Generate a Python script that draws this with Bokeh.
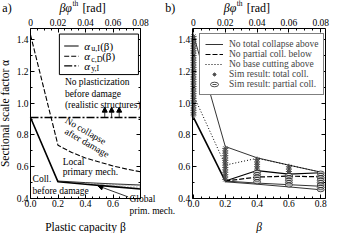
from bokeh.plotting import figure
from bokeh.layouts import row
from bokeh.models import (Range1d, LinearAxis, FixedTicker, PrintfTickFormatter,
                          CustomJSTickFormatter, Label, Arrow, NormalHead,
                          BoxAnnotation, Legend, LegendItem)
from bokeh.embed import file_html
from bokeh.resources import INLINE

FONT = "Liberation Serif"

# ---------------- panel a data ----------------
beta_a = [0.0, 0.2, 0.4, 0.6, 0.8]
alpha_u_I = [0.91, 0.505, 0.49, 0.475, 0.46]
beta_glob = [0.2, 0.4, 0.6, 0.8]
alpha_u_I_glob = [0.51, 0.50, 0.492, 0.485]
alpha_u_I_low = [0.505, 0.49, 0.475, 0.46]
beta_cD = [0.0, 0.2, 0.3, 0.4, 0.5, 0.6, 0.7, 0.8]
alpha_c_D = [1.43, 0.735, 0.69, 0.655, 0.63, 0.605, 0.585, 0.568]
beta_yI = [0.0, 0.8]
alpha_y_I = [0.91, 0.91]
arrow_beta = [0.54, 0.59, 0.645]

# ---------------- panel b data ----------------
beta_b = [0.0, 0.2, 0.4, 0.6, 0.8]
total_upper = [1.43, 0.727, 0.656, 0.61, 0.566]
base_cut = [1.05, 0.61, 0.653, 0.61, 0.566]
beta_b2 = [0.2, 0.4, 0.6, 0.8]
total_mid = [0.51, 0.576, 0.553, 0.562]
partial_below = [0.51, 0.535, 0.541, 0.536]
total_low1 = [0.51, 0.497, 0.487, 0.477]
total_low2 = [0.505, 0.49, 0.473, 0.455]
beta_b0 = [0.0, 0.2]
total_thick = [0.91, 0.51]

sim_total_b00 = [1.42, 1.405, 1.39, 1.375, 1.36, 1.345, 1.33, 1.315, 1.30, 1.285,
                 1.27, 1.255, 1.24, 1.225, 1.21, 1.195, 1.18, 1.165, 1.15, 1.135,
                 1.12, 1.105, 1.09, 1.075, 1.06, 1.045, 1.03, 1.015, 1.00, 0.985,
                 0.97, 0.955, 0.94, 0.925]
sim_total_b02 = [0.715, 0.70, 0.685, 0.67, 0.655, 0.64, 0.625, 0.61, 0.595, 0.58,
                 0.565, 0.55, 0.535, 0.52]
sim_total_b04 = [0.645, 0.63, 0.615, 0.60, 0.585]
sim_total_b06 = [0.60, 0.585, 0.57, 0.555]
sim_part_b04 = [0.565, 0.55, 0.535, 0.52, 0.505]
sim_part_b06 = [0.545, 0.53, 0.515, 0.50, 0.485]
sim_part_b08 = [0.56, 0.545, 0.53, 0.515, 0.50, 0.485, 0.47, 0.455]

sim_total = {0.0: sim_total_b00, 0.2: sim_total_b02, 0.4: sim_total_b04, 0.6: sim_total_b06}
sim_part = {0.4: sim_part_b04, 0.6: sim_part_b06, 0.8: sim_part_b08}
st_x = [b for b, ys in sim_total.items() for _ in ys]
st_y = [y for ys in sim_total.values() for y in ys]
sp_x = [b for b, ys in sim_part.items() for _ in ys]
sp_y = [y for ys in sim_part.values() for y in ys]

# ---------------- axes / ticks ----------------
Y_MIN, Y_MAX = 0.4, 1.47
y_ticks = [0.4, 0.6, 0.8, 1.0, 1.2, 1.4]
y_minor = [0.5, 0.7, 0.9, 1.1, 1.3]
x_ticks_a = [0.0, 0.2, 0.4, 0.6]
x_ticks_b = [0.0, 0.2, 0.4, 0.6, 0.8]
x_minor = [round(0.05 * i, 3) for i in range(17)]
top_ticks = [0.0, 0.02, 0.04, 0.06, 0.08]
top_minor = [round(0.005 * i, 4) for i in range(17)]

HEIGHT = 233
# canvas spans in data units (frame = whole canvas; the box is drawn by the axes)
CANVAS_Y = (0.1797, 1.6462)


def style_axis(ax):
    ax.axis_line_color = "black"
    ax.axis_line_width = 1
    ax.major_tick_in = 4
    ax.major_tick_out = 0
    ax.minor_tick_in = 2
    ax.minor_tick_out = 0
    ax.major_tick_line_color = "black"
    ax.minor_tick_line_color = "black"
    ax.major_label_text_font = FONT
    ax.major_label_text_font_size = "9.5px"
    ax.major_label_text_color = "black"
    ax.major_label_standoff = 2
    ax.axis_label_text_font = FONT
    ax.axis_label_text_font_size = "11.5px"
    ax.axis_label_text_font_style = "normal"
    ax.axis_label_text_color = "black"


def make_panel(width, canvas_x, box_x, bottom_ticks):
    p = figure(width=width, height=HEIGHT, x_range=Range1d(*canvas_x),
               y_range=Range1d(*CANVAS_Y), output_backend="svg",
               toolbar_location=None, min_border=0,
               x_axis_location=None, y_axis_location=None)
    p.extra_x_ranges = {"top": Range1d(canvas_x[0] / 10, canvas_x[1] / 10)}
    p.grid.visible = False
    p.outline_line_color = None
    p.background_fill_color = "white"
    p.border_fill_color = "white"
    x0, x1 = box_x
    bottom = LinearAxis(ticker=FixedTicker(ticks=bottom_ticks, minor_ticks=x_minor),
                        formatter=PrintfTickFormatter(format="%.1f"),
                        fixed_location=Y_MIN, bounds=(x0, x1))
    left = LinearAxis(ticker=FixedTicker(ticks=y_ticks, minor_ticks=y_minor),
                      formatter=PrintfTickFormatter(format="%.1f"),
                      fixed_location=x0, bounds=(Y_MIN, Y_MAX))
    top = LinearAxis(x_range_name="top",
                     ticker=FixedTicker(ticks=top_ticks, minor_ticks=top_minor),
                     formatter=PrintfTickFormatter(format="%g"),
                     fixed_location=Y_MAX, bounds=(x0 / 10, x1 / 10))
    right = LinearAxis(ticker=FixedTicker(ticks=y_ticks, minor_ticks=y_minor),
                       formatter=CustomJSTickFormatter(code="return ''"),
                       fixed_location=x1, bounds=(Y_MIN, Y_MAX))
    p.add_layout(bottom, "below")
    p.add_layout(left, "left")
    p.add_layout(top, "above")
    p.add_layout(right, "right")
    for ax in (bottom, left, top, right):
        style_axis(ax)
    bottom.axis_label_standoff = 10
    left.axis_label_standoff = 3
    return p, bottom, left


def txt(p, x, y, s, size="9.5px", align="left", angle=0.0, style="normal",
        xo=0, yo=0, baseline="middle"):
    p.add_layout(Label(x=x, y=y, text=s, text_font=FONT, text_font_size=size,
                       text_align=align, text_baseline=baseline, angle=angle,
                       text_font_style=style, x_offset=xo, y_offset=yo,
                       text_color="black"))


def title(p, x):
    txt(p, x, 1.6, "βφ", size="12px", style="italic")
    txt(p, x, 1.6, "th", size="7.5px", xo=13, yo=4)
    txt(p, x, 1.6, "[rad]", size="12px", xo=23)


# ================= panel a =================
pa, pa_bottom, pa_left = make_panel(176, (-0.2182, 1.0618), (0.0, 0.8), x_ticks_a)
pa_bottom.axis_label = "Plastic capacity β"
pa_left.axis_label = "Sectional scale factor α"

pa.varea(x=beta_glob, y1=alpha_u_I_low, y2=alpha_u_I_glob, fill_alpha=0,
         hatch_pattern="/", hatch_color="#333333", hatch_scale=3, hatch_weight=0.3)
pa.line(beta_glob, alpha_u_I_glob, line_color="black", line_width=0.8)
pa.line(beta_cD, alpha_c_D, line_color="black", line_width=1.1, line_dash="5 2")
pa.line(beta_yI, alpha_y_I, line_color="black", line_width=1.6, line_dash="8 2 2 2")
pa.line(beta_a, alpha_u_I, line_color="black", line_width=1.6)

for xb in arrow_beta:
    pa.add_layout(Arrow(end=NormalHead(size=5, fill_color="black", line_color="black"),
                        x_start=xb, y_start=0.91, x_end=xb, y_end=0.975,
                        line_color="black", line_width=0.8))
pa.add_layout(Arrow(end=NormalHead(size=5, fill_color="black", line_color="black"),
                    x_start=0.71, y_start=0.41, x_end=0.49, y_end=0.48,
                    line_color="black", line_width=0.8))

# legend (manual) for panel a
pa.add_layout(BoxAnnotation(left=0.21, right=0.785, bottom=1.18, top=1.435,
                            fill_color="white", fill_alpha=1, line_color="black",
                            line_width=1, line_alpha=1))
leg_rows = [1.36, 1.295, 1.235]
leg_dash = ["solid", "5 2", "8 2 2 2"]
leg_sub = ["u,I", "c,D", "y,I"]
leg_tail = ["(β)", "(β)", ""]
leg_sub_w = [9, 11, 9]
for yy, dsh, sub, tail, sw in zip(leg_rows, leg_dash, leg_sub, leg_tail, leg_sub_w):
    pa.add_layout(Arrow(end=None, x_start=0.245, y_start=yy, x_end=0.35, y_end=yy,
                        line_color="black", line_width=1.1, line_dash=dsh))
    txt(pa, 0.39, yy, "α", size="11px", style="italic")
    txt(pa, 0.39, yy, sub, size="8px", xo=7, yo=-3)
    if tail:
        txt(pa, 0.39, yy, tail, size="11px", xo=7 + sw)

txt(pa, 0.25, 1.131, "No plasticization")
txt(pa, 0.25, 1.06, "before damage")
txt(pa, 0.25, 0.99, "(realistic structures)")
txt(pa, 0.40, 0.825, "No collapse", align="center", angle=-0.52)
txt(pa, 0.41, 0.75, "after damage", align="center", angle=-0.52)
txt(pa, 0.234, 0.63, "Local")
txt(pa, 0.234, 0.565, "primary mech.")
txt(pa, 0.015, 0.52, "Coll.")
txt(pa, 0.015, 0.45, "before damage")
txt(pa, 0.72, 0.398, "Global")
txt(pa, 0.72, 0.322, "prim. mech.")

txt(pa, -0.205, 1.6, "a)", size="12px")
txt(pa, 0.98, 1.6, "b)", size="12px")
title(pa, 0.21)

# ================= panel b =================
pb, pb_bottom, pb_left = make_panel(154, (-0.1069, 0.8616), (-0.008, 0.83), x_ticks_b)
pb_bottom.axis_label = "β"
pb_bottom.axis_label_text_font_style = "italic"

r_upper = pb.line(beta_b, total_upper, line_color="black", line_width=0.8)
r_base = pb.line(beta_b, base_cut, line_color="black", line_width=1.0, line_dash="1 2")
pb.line(beta_b2, total_low1, line_color="black", line_width=0.8)
pb.line(beta_b2, total_low2, line_color="black", line_width=0.8)
pb.line(beta_b2, total_mid, line_color="black", line_width=1.2)
r_partial = pb.line(beta_b2, partial_below, line_color="black", line_width=1.2,
                    line_dash="5 2")
pb.line(beta_b0, total_thick, line_color="black", line_width=1.6)

r_st = pb.scatter(st_x, st_y, marker="asterisk", size=6, line_color="#444444",
                  line_width=0.9)
r_spe = pb.ellipse(x=sp_x, y=sp_y, width=7, height=4, width_units="screen",
                   height_units="screen", fill_color="white", line_color="black",
                   line_width=0.7)
r_spd = pb.scatter(sp_x, sp_y, marker="dash", size=5, line_color="black",
                   line_width=0.7)

legend = Legend(items=[
    LegendItem(label="No total collapse above", renderers=[r_upper]),
    LegendItem(label="No partial coll. below", renderers=[r_partial]),
    LegendItem(label="No base cutting above", renderers=[r_base]),
    LegendItem(label="Sim result: total coll.", renderers=[r_st]),
    LegendItem(label="Sim result: partial coll.", renderers=[r_spe, r_spd]),
], location=(23, 138), padding=5, spacing=0, glyph_height=10, glyph_width=18,
    label_height=10, label_standoff=6, margin=0, label_text_font=FONT,
    label_text_font_size="9.5px", border_line_color="black", border_line_width=1,
    background_fill_color="white", background_fill_alpha=1)
pb.add_layout(legend)

title(pb, 0.19)

layout = row(pa, pb)
open("out.html", "w").write(file_html(layout, INLINE))
